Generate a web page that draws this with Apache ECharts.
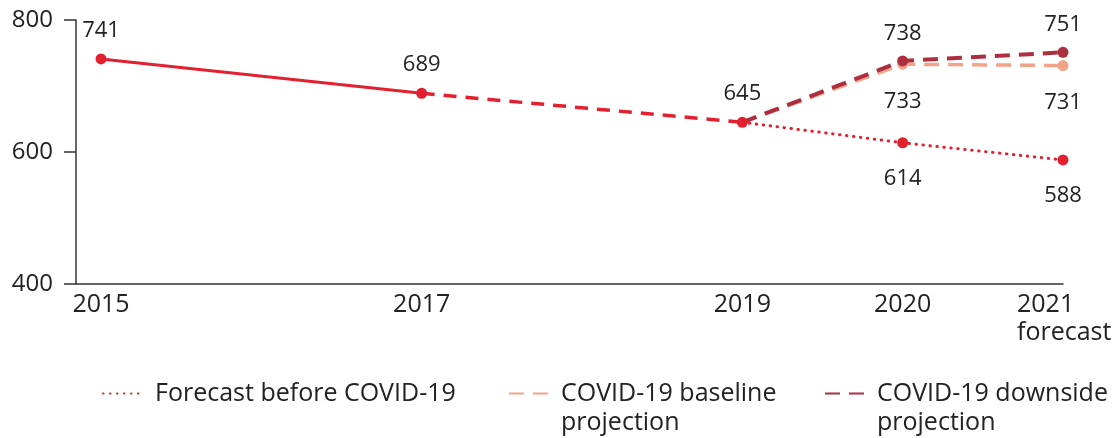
<!DOCTYPE html>
<html>
<head>
<meta charset="utf-8">
<script src="https://cdn.jsdelivr.net/npm/echarts@6/dist/echarts.min.js"></script>
<style>
  html, body { margin: 0; padding: 0; background: #fff; }
  #chart { width: 1120px; height: 438px; }
</style>
</head>
<body>
<div id="chart"></div>
<script>
// Years shown on the horizontal axis
const tickYears = [2015, 2017, 2019, 2020, 2021];
const tickLabels = ['2015', '2017', '2019', '2020', '2021\nforecast'];

// Observed values
const observedYears = [2015, 2017];
const observedValues = [741, 689];
// Estimated path 2017 -> 2019
const estimateYears = [2017, 2019];
const estimateValues = [689, 645];

// Projections from 2019 onward
const projYears = [2019, 2020, 2021];
const preCovid = [645, 614, 588];
const baseline = [645, 733, 731];
const downside = [645, 738, 751];

const yTicks = [400, 600, 800];

const RED = '#e3202f';
const SALMON = '#f2a388';
const DARK = '#ad2f3f';
const TEXT = '#222';
const FONT = '"Open Sans", "Noto Sans", sans-serif';

const pairs = (xs, ys) => xs.map((x, i) => [x, ys[i]]);

// Projection points: the 2019 start point is drawn by the red series
function projData(vals, labelPos) {
  return pairs(projYears, vals).map((p, i) => {
    if (i === 0) return { value: p, symbol: 'none', label: { show: false } };
    return { value: p, label: { position: labelPos[i] } };
  });
}

const valueLabel = {
  show: true,
  color: TEXT,
  fontFamily: FONT,
  fontSize: 22,
  distance: 12
};

const chart = echarts.init(document.getElementById('chart'));

// Legend entries; two-line names get a blank first line so the
// icon sits level with the first visible line of text.
const legendBase = {
  orient: 'horizontal',
  padding: 0,
  itemWidth: 40,
  itemHeight: 14,
  itemGap: 10,
  itemStyle: { opacity: 0 },
  textStyle: {
    color: TEXT,
    fontFamily: FONT,
    fontSize: 25,
    lineHeight: 29,
    padding: [0, 0, 0, 7]
  },
  selectedMode: false
};

chart.setOption({
  animation: false,
  backgroundColor: '#fff',
  grid: { left: 76, right: 57, top: 20, bottom: 154 },
  legend: [
    Object.assign({}, legendBase, { left: 102, top: 379, data: ['Forecast before COVID-19'] }),
    Object.assign({}, legendBase, { left: 508, top: 350, data: ['COVID-19 baseline projection'],
      formatter: () => ' \nCOVID-19 baseline\nprojection' }),
    Object.assign({}, legendBase, { left: 824, top: 350, data: ['COVID-19 downside projection'],
      formatter: () => ' \nCOVID-19 downside\nprojection' })
  ],
  xAxis: {
    type: 'value',
    min: 2014.844,
    max: 2021,
    axisLine: { show: true, lineStyle: { color: '#333', width: 1.5 } },
    axisTick: { show: false },
    splitLine: { show: false },
    axisLabel: {
      customValues: tickYears,
      margin: 7,
      color: TEXT,
      fontFamily: FONT,
      fontSize: 25,
      lineHeight: 28,
      formatter: v => {
        const i = tickYears.indexOf(v);
        const t = i >= 0 ? tickLabels[i] : '';
        return t.indexOf('\n') >= 0
          ? t.split('\n').map(s => '{l|' + s + '}').join('\n')
          : t;
      },
      rich: {
        l: { width: 92, align: 'left', fontSize: 25, lineHeight: 28, fontFamily: FONT, color: TEXT }
      }
    }
  },
  yAxis: {
    type: 'value',
    min: 400,
    max: 800,
    interval: 200,
    axisLine: { show: true, lineStyle: { color: '#333', width: 1.5 } },
    axisTick: { show: true, length: 12, lineStyle: { color: '#333', width: 1.5 } },
    splitLine: { show: false },
    axisLabel: {
      customValues: yTicks,
      margin: 23,
      color: TEXT,
      fontFamily: FONT,
      fontSize: 24
    }
  },
  series: [
    {
      name: 'Observed',
      type: 'line',
      data: pairs(observedYears, observedValues),
      symbol: 'circle',
      symbolSize: 11,
      itemStyle: { color: RED },
      lineStyle: { color: RED, width: 3 },
      label: Object.assign({}, valueLabel, { position: 'top' }),
      z: 5
    },
    {
      name: 'Estimate',
      type: 'line',
      data: pairs(estimateYears, estimateValues).map((p, i) =>
        i === 0 ? { value: p, symbol: 'none', label: { show: false } } : { value: p }),
      symbol: 'circle',
      symbolSize: 11,
      itemStyle: { color: RED },
      lineStyle: { color: RED, width: 3.5, type: [13, 9] },
      label: Object.assign({}, valueLabel, { position: 'top' }),
      z: 6
    },
    {
      name: 'Forecast before COVID-19',
      type: 'line',
      data: projData(preCovid, ['top', 'bottom', 'bottom']),
      symbol: 'circle',
      symbolSize: 11,
      itemStyle: { color: RED },
      lineStyle: { color: RED, width: 3, type: [0.5, 6.5], cap: 'round' },
      label: Object.assign({}, valueLabel, { distance: 19 }),
      z: 3
    },
    {
      name: 'COVID-19 baseline projection',
      type: 'line',
      data: projData(baseline, ['top', 'bottom', 'bottom']),
      symbol: 'circle',
      symbolSize: 11,
      itemStyle: { color: SALMON },
      lineStyle: { color: SALMON, width: 3.5, type: [15, 9] },
      label: Object.assign({}, valueLabel, { distance: 21 }),
      z: 2
    },
    {
      name: 'COVID-19 downside projection',
      type: 'line',
      data: projData(downside, ['top', 'top', 'top']),
      symbol: 'circle',
      symbolSize: 11,
      itemStyle: { color: DARK },
      lineStyle: { color: DARK, width: 4, type: [15, 9] },
      label: Object.assign({}, valueLabel, { distance: 11 }),
      z: 4
    }
  ]
});
</script>
</body>
</html>
